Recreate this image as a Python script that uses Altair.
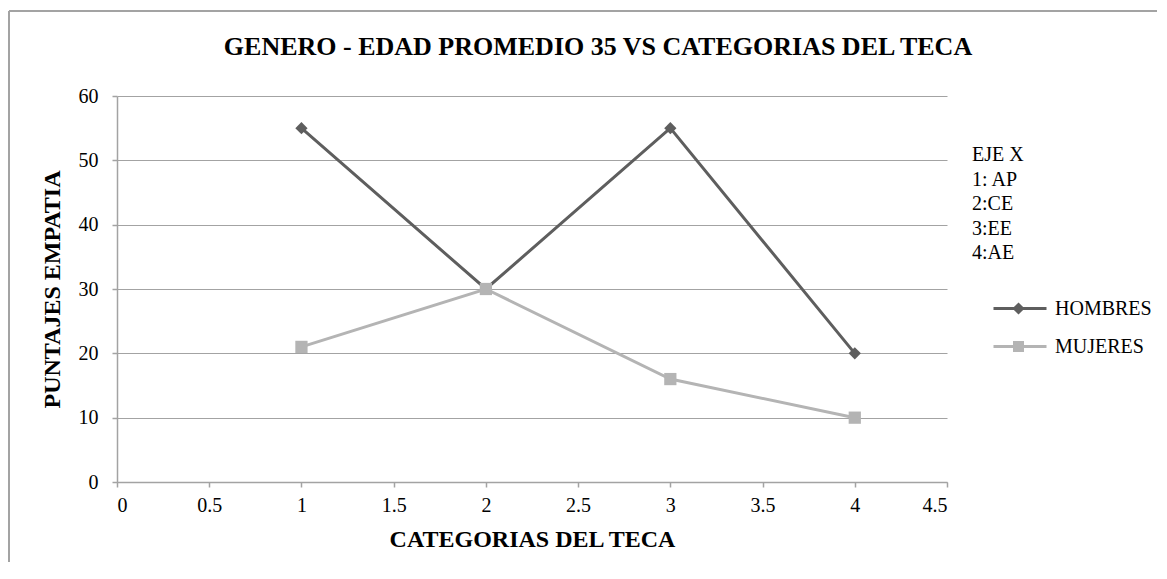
import altair as alt
import pandas as pd

# ---- data ----
categorias = [1, 2, 3, 4]
hombres = [55, 30, 55, 20]
mujeres = [21, 30, 16, 10]
series = ["HOMBRES", "MUJERES"]
x_ticks = [0, 0.5, 1, 1.5, 2, 2.5, 3, 3.5, 4, 4.5]
y_ticks = [0, 10, 20, 30, 40, 50, 60]
eje_x_nota = ["EJE X", "1: AP", "2:CE", "3:EE", "4:AE"]
titulo = "GENERO - EDAD PROMEDIO 35 VS CATEGORIAS DEL TECA"
colores = ["#5e5e5e", "#b4b4b4"]
formas = ["diamond", "square"]

rows = []
for c, h, m in zip(categorias, hombres, mujeres):
    rows.append({"cat": c, "val": h, "serie": series[0]})
    rows.append({"cat": c, "val": m, "serie": series[1]})
df = pd.DataFrame(rows)

FONT = "Liberation Serif, Times New Roman, serif"
W, H = 830, 386
GRAY = "#a3a3a3"

x = alt.X("cat:Q",
          scale=alt.Scale(domain=[0, 4.5], nice=False, zero=False),
          axis=alt.Axis(values=x_ticks, format="~g", title="CATEGORIAS DEL TECA",
                        grid=False, labelPadding=8, titlePadding=12))
y = alt.Y("val:Q",
          scale=alt.Scale(domain=[0, 60], nice=False),
          axis=alt.Axis(values=y_ticks, title="PUNTAJES EMPATIA", grid=True,
                        labelPadding=14, titlePadding=14))
color_scale = alt.Scale(domain=series, range=colores)

lines = alt.Chart(df).mark_line(strokeWidth=3).encode(
    x=x, y=y, color=alt.Color("serie:N", scale=color_scale, legend=None))

point_layers = [
    alt.Chart(df).transform_filter(alt.datum.serie == s).mark_point(
        filled=True, size=150, opacity=1, shape=f).encode(
        x=x, y=y, color=alt.Color("serie:N", scale=color_scale, legend=None))
    for s, f in zip(series, formas)
]

# legend symbols: a line with the marker in its middle (drawn by stroke only)
leg_paths = [
    "M1,0H6.3M3.5,-0.4L3.9,0L3.5,0.4L3.1,0ZM3.5,-0.12L3.62,0L3.5,0.12L3.38,0Z",
    "M1,0H6.3M3.1,-0.4H3.9V0.4H3.1ZM3.4,-0.1H3.6V0.1H3.4Z",
]
leg_base = dict(orient="none", legendX=855, titleFont=FONT, titleFontSize=20,
                titleFontWeight="normal", titleColor="black", titleLineHeight=24.5,
                titleAnchor="start", labelFont=FONT, labelFontSize=20,
                labelColor="black", labelOffset=60, symbolSize=400,
                symbolStrokeWidth=3, symbolOpacity=1, padding=0)

leg_h = alt.Chart(df).transform_filter(alt.datum.serie == series[0]).mark_point(
    filled=True, opacity=0, color=colores[0]).encode(
    x=x, y=y,
    fill=alt.Fill("serie:N", scale=alt.Scale(domain=[series[0]], range=[colores[0]]),
                  legend=alt.Legend(title=eje_x_nota, legendY=49, titlePadding=34,
                                    symbolType=leg_paths[0],
                                    symbolFillColor=colores[0],
                                    symbolStrokeColor=colores[0], **leg_base)))
leg_m = alt.Chart(df).transform_filter(alt.datum.serie == series[1]).mark_point(
    filled=True, opacity=0, color=colores[1]).encode(
    x=x, y=y,
    stroke=alt.Stroke("serie:N", scale=alt.Scale(domain=[series[1]], range=[colores[1]]),
                      legend=alt.Legend(title=None, legendY=239,
                                        symbolType=leg_paths[1],
                                        symbolFillColor=colores[1],
                                        symbolStrokeColor=colores[1], **leg_base)))

frame_df = pd.DataFrame({"k": [0]})
border_left = alt.Chart(frame_df).mark_rule(color=GRAY, strokeWidth=2).encode(
    x=alt.value(-108), y=alt.value(-85), y2=alt.value(520))
border_top = alt.Chart(frame_df).mark_rule(color=GRAY, strokeWidth=2).encode(
    x=alt.value(-108), x2=alt.value(1100), y=alt.value(-85))

chart = alt.layer(border_left, border_top, lines, *point_layers, leg_h, leg_m).properties(
    width=W, height=H,
    title=alt.TitleParams(titulo, font=FONT, fontSize=26, fontWeight="bold",
                          color="black", dx=66, offset=-50, frame="group"),
    autosize=alt.AutoSizeParams(type="none"),
    padding={"left": 109, "top": 88, "right": 210, "bottom": 80},
).configure_view(stroke=None).configure_axis(
    domainColor=GRAY, domainWidth=1.5, tickColor=GRAY, tickSize=5, tickWidth=1.5,
    gridColor=GRAY, gridWidth=1.2,
    labelFont=FONT, labelFontSize=20, labelColor="black",
    titleFont=FONT, titleFontSize=24, titleFontWeight="bold", titleColor="black",
)

chart.save("out.html", embed_options={"renderer": "svg", "actions": False})
